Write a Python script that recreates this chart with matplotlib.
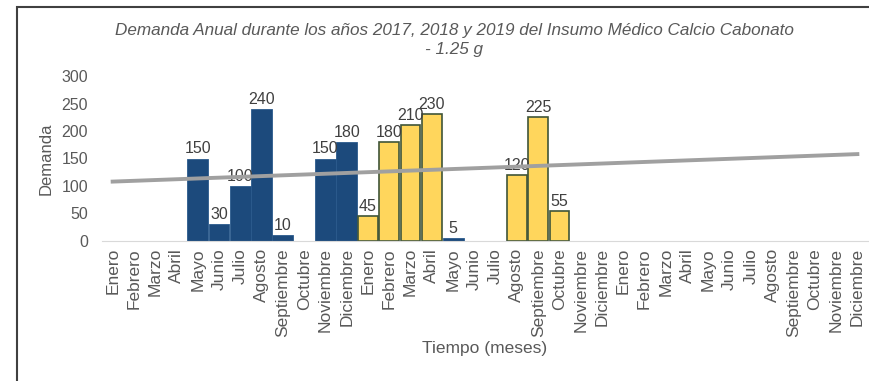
import numpy as np
import matplotlib
matplotlib.use("Agg")
import matplotlib.pyplot as plt
from matplotlib.patches import Rectangle

plt.rcParams['font.family'] = ['Liberation Sans', 'DejaVu Sans']

# etiquetas del eje x (3 años)
meses = ["Enero", "Febrero", "Marzo", "Abril", "Mayo", "Junio", "Julio",
         "Agosto", "Septiembre", "Octubre", "Noviembre", "Diciembre"]
etiquetas = meses + meses + meses

# demanda por mes (None = sin dato)
serie_azul = [None, None, None, None, 150, 30, 100, 240, 10, None, 150, 180,
              None, None, None, None, 5, None, None, None, None, None, None, None,
              None, None, None, None, None, None, None, None, None, None, None, None]
serie_amarilla = [None, None, None, None, None, None, None, None, None, None, None, None,
                  45, 180, 210, 230, None, None, None, 120, 225, 55, None, None,
                  None, None, None, None, None, None, None, None, None, None, None, None]

# línea de tendencia (valores al inicio y al final)
tendencia = [108, 158]

azul = "#1c4a7c"
amarillo = "#ffd65c"
gris_txt = "#595959"

fig = plt.figure(figsize=(8.69, 3.81), dpi=100)
ax = fig.add_axes([102/869, 1 - 241/381, (868-102)/869, (241-76)/381])

x = np.arange(len(etiquetas))

def dibujar(serie, color, borde, lw, ancho):
    for i, v in enumerate(serie):
        if v is None:
            continue
        ax.bar(x[i], v, width=ancho, color=color, edgecolor=borde, linewidth=lw, zorder=2)
        ax.text(x[i], v + 4, str(v), ha="center", va="bottom", fontsize=11.5,
                color="#404040", zorder=3)

dibujar(serie_azul, azul, "#2a5a8c", 0.6, 0.98)
dibujar(serie_amarilla, amarillo, "#3f5538", 1.2, 0.92)

ax.plot([x[0], x[-1]], tendencia, color="#a0a0a0", linewidth=2.8, zorder=4)

ax.set_xlim(-0.5, len(etiquetas) - 0.5)
ax.set_ylim(0, 300)
ax.set_yticks([0, 50, 100, 150, 200, 250, 300])
ax.set_xticks(x)
ax.set_xticklabels(etiquetas, rotation=90, fontsize=12.5, color=gris_txt)
ax.tick_params(axis="y", labelsize=11.5, colors=gris_txt, length=0, pad=10)
ax.tick_params(axis="x", length=0, pad=5)

for s in ["top", "right", "left"]:
    ax.spines[s].set_visible(False)
ax.spines["bottom"].set_color("#d9d9d9")

ax.set_ylabel("Demanda", fontsize=12, color=gris_txt, labelpad=6)
ax.set_xlabel("Tiempo (meses)", fontsize=12.5, color=gris_txt, labelpad=3)

fig.text(454/869, 1 - 40/381,
         "Demanda Anual durante los años 2017, 2018 y 2019 del Insumo Médico Calcio Cabonato\n- 1.25 g",
         ha="center", va="center", fontsize=12.3, style="italic", color=gris_txt,
         linespacing=1.35)

# marco de la imagen
fig.patches.append(Rectangle((17/869, -0.1), 1.0, 1 - 7/381 + 0.1,
                             transform=fig.transFigure, fill=False,
                             edgecolor="#404040", linewidth=1.5))

fig.savefig("out.png", dpi=100)
